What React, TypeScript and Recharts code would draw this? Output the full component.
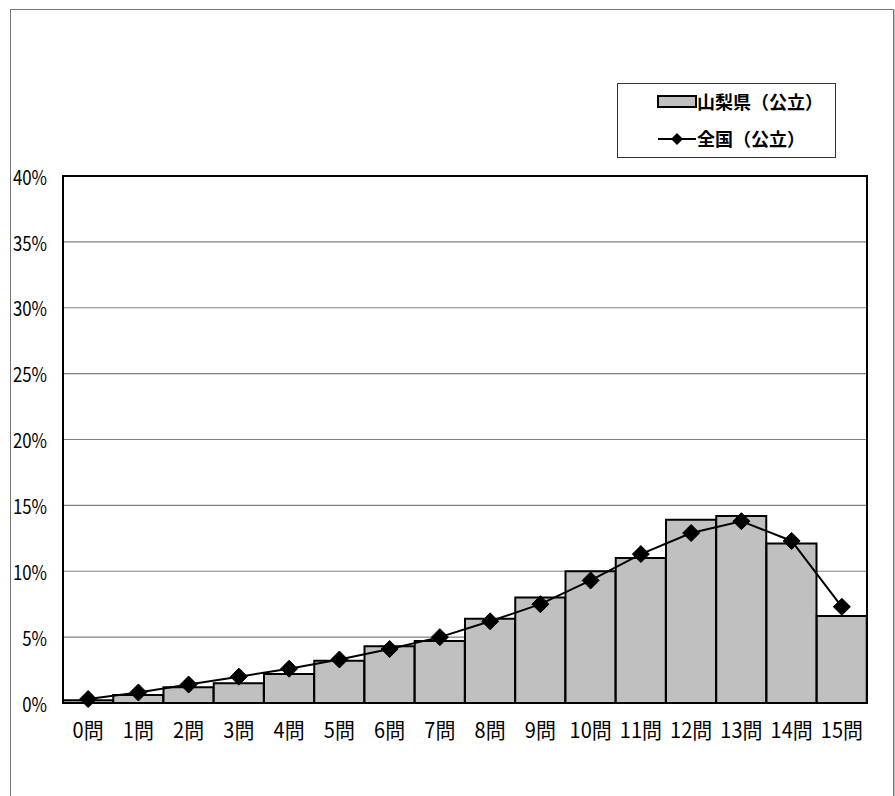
import React from 'react';
import { ComposedChart, Bar, Line, XAxis, YAxis, CartesianGrid, Legend, ReferenceArea } from 'recharts';

const categories = ['0問', '1問', '2問', '3問', '4問', '5問', '6問', '7問', '8問', '9問', '10問', '11問', '12問', '13問', '14問', '15問'];
const yamanashi = [0.2, 0.6, 1.2, 1.5, 2.2, 3.2, 4.3, 4.7, 6.4, 8.0, 10.0, 11.0, 13.9, 14.2, 12.1, 6.6];
const national = [0.3, 0.8, 1.4, 2.0, 2.6, 3.3, 4.1, 5.0, 6.2, 7.5, 9.3, 11.3, 12.9, 13.8, 12.3, 7.3];
const yTicks = [0, 5, 10, 15, 20, 25, 30, 35, 40];
const seriesNames = ['山梨県（公立）', '全国（公立）'];

const data = categories.map((c, i) => ({ name: c, pref: yamanashi[i], nat: national[i] }));

const FONT = '"Noto Sans CJK JP", "Noto Sans", sans-serif';

const Diamond = (props: any) => {
  const { cx, cy } = props;
  if (cx == null || cy == null) return null;
  const r = 8.5;
  return <polygon points={`${cx},${cy - r} ${cx + r},${cy} ${cx},${cy + r} ${cx - r},${cy}`} fill="#000" stroke="#000" />;
};

const YTick = (props: any) => {
  const { x, y, payload } = props;
  return (
    <text x={x} y={y} textAnchor="end" dominantBaseline="central" fontSize={20} fontFamily={FONT} fill="#000"
      transform={`translate(${x},${y}) scale(0.84,1) translate(${-x},${-y})`}>
      {`${payload.value}%`}
    </text>
  );
};

const XTick = (props: any) => {
  const { x, y, payload } = props;
  return (
    <text x={x} y={y} textAnchor="middle" dominantBaseline="central" fontSize={21} fontFamily={FONT} fill="#000"
      transform={`translate(${x},${y}) scale(0.95,1) translate(${-x},${-y})`}>
      {payload.value}
    </text>
  );
};

const LegendBox = () => (
  <div style={{ width: 219, height: 75, border: '1px solid #333', background: '#fff', boxSizing: 'border-box', position: 'relative', fontFamily: FONT }}>
    <svg width={219} height={75} style={{ position: 'absolute', left: -1, top: -1 }}>
      <rect x={41} y={13} width={38} height={11} fill="#C0C0C0" stroke="#000" strokeWidth={2} />
      <text x={80} y={18} dominantBaseline="central" fontSize={18} fontWeight="bold" fontFamily={FONT} fill="#000">{seriesNames[0]}</text>
      <line x1={41} y1={56} x2={79} y2={56} stroke="#000" strokeWidth={2} />
      <polygon points="60,50 66,56 60,62 54,56" fill="#000" />
      <text x={80} y={55} dominantBaseline="central" fontSize={18} fontWeight="bold" fontFamily={FONT} fill="#000">{seriesNames[1]}</text>
    </svg>
  </div>
);

export default function App() {
  return (
    <div style={{ position: 'absolute', left: 0, top: 0, width: 895, height: 796, background: '#fff', overflow: 'hidden' }}>
      <div style={{ position: 'absolute', left: 10, top: 9, width: 882, height: 800, border: '1px solid #777', boxShadow: '1px 1px 0 #bbb' }} />
      <div style={{ position: 'absolute', left: 0, top: 0 }}>
        <ComposedChart width={895} height={796} data={data} barCategoryGap={0} margin={{ top: 176, right: 28, left: 13, bottom: 53 }}>
          <CartesianGrid yAxisId="l" horizontal vertical={false} stroke="#808080" strokeWidth={1.2} />
          <XAxis dataKey="name" axisLine={{ stroke: '#000', strokeWidth: 2 }} tickLine={false} height={40} tickMargin={20}
            tick={<XTick />} interval={0} />
          <YAxis yAxisId="l" domain={[0, 40]} ticks={yTicks} width={50}
            axisLine={{ stroke: '#000', strokeWidth: 2 }} tickLine={false} tickMargin={10}
            tick={<YTick />} interval={0} />
          <ReferenceArea yAxisId="l" y1={0} y2={40} fill="none" stroke="#000" strokeWidth={2} ifOverflow="visible" />
          <Bar yAxisId="l" dataKey="pref" name={seriesNames[0]} fill="#C0C0C0" stroke="#000" strokeWidth={2} isAnimationActive={false} />
          <Line yAxisId="l" dataKey="nat" name={seriesNames[1]} type="linear" stroke="#000" strokeWidth={2}
            dot={<Diamond />} activeDot={false} isAnimationActive={false} />
          <Legend layout="vertical" align="center" verticalAlign="middle" content={() => <LegendBox />}
            wrapperStyle={{ position: 'absolute', left: 617, top: 83, width: 219, height: 75 }} />
        </ComposedChart>
      </div>
    </div>
  );
}
